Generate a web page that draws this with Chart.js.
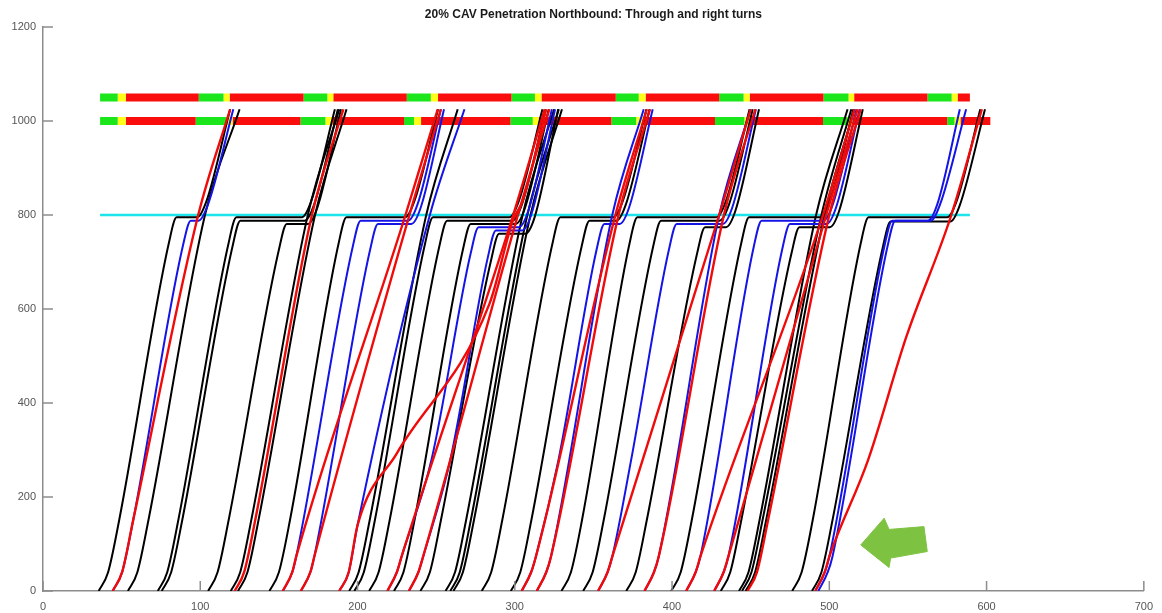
<!DOCTYPE html>
<html><head><meta charset="utf-8">
<script src="https://cdn.jsdelivr.net/npm/chart.js@4.4.1/dist/chart.umd.min.js"></script>
<style>html,body{margin:0;padding:0;background:#fff}#wrap{width:1162px;height:613px}</style>
</head><body><div id="wrap"><canvas id="c" width="1162" height="613"></canvas></div>
<script>
const chartTitle = "20% CAV Penetration Northbound: Through and right turns";
const xTickValues = [0,100,200,300,400,500,600,700];
const yTickValues = [0,200,400,600,800,1000,1200];

// signal phases [start, end, phase]
const signalUpper = [[36.3,47.5,'G'],[47.5,52.7,'Y'],[52.7,99,'R'],[99,114.8,'G'],[114.8,118.7,'Y'],[118.7,165.7,'R'],[165.7,180.8,'G'],[180.8,184.6,'Y'],[184.6,231.3,'R'],[231.3,246.6,'G'],[246.6,251.2,'Y'],[251.2,297.9,'R'],[297.9,312.8,'G'],[312.8,317,'Y'],[317,364.2,'R'],[364.2,378.8,'G'],[378.8,383.2,'Y'],[383.2,430,'R'],[430,445.5,'G'],[445.5,449.4,'Y'],[449.4,496.3,'R'],[496.3,512.2,'G'],[512.2,515.8,'Y'],[515.8,562.4,'R'],[562.4,577.8,'G'],[577.8,581.6,'Y'],[581.6,589.4,'R']];
const signalLower = [[36.3,47.5,'G'],[47.5,52.7,'Y'],[52.7,97.1,'R'],[97.1,116.8,'G'],[116.8,120.6,'Y'],[120.6,163.7,'R'],[163.7,179.6,'G'],[179.6,184,'Y'],[184,229.6,'R'],[229.6,235.9,'G'],[235.9,240.4,'Y'],[240.4,297.2,'R'],[297.2,311.4,'G'],[311.4,315.2,'Y'],[315.2,361.4,'R'],[361.4,377.2,'G'],[377.2,381.7,'Y'],[381.7,427.3,'R'],[427.3,446,'G'],[446,449.5,'Y'],[449.5,496,'R'],[496,511.5,'G'],[511.5,515.3,'Y'],[515.3,575,'R'],[575,579.6,'G'],[579.6,583.4,'Y'],[583.4,602.4,'R']];
const signalUpperY = 1050;
const signalLowerY = 1000;
const stopLine = [[36.3,800],[589.4,800]];

const blackTracks = [
 [[35.4,0],[41.4,40],[48.4,150],[80,740],[85,795],[98,795],[104,830],[119,1025]],
 [[54,0],[60,40],[67,150],[103,800],[125,1025]],
 [[73,0],[79,40],[86,150],[118,740],[123,795],[164.6,795],[170.6,830],[185.6,1025]],
 [[75.5,0],[81.5,40],[88.5,150],[120.5,733],[125.5,788],[166.5,788],[172.5,823],[187.5,1025]],
 [[105,0],[111,40],[118,150],[150,726],[155,781],[168.5,781],[174.5,816],[189.5,1025]],
 [[119.4,0],[125.4,40],[132.4,150],[168.4,800],[188.4,1025]],
 [[124,0],[130,40],[137,150],[173,800],[193,1025]],
 [[144,0],[150,40],[157,150],[188,740],[193,795],[230.2,795],[236.2,830],[251.2,1025]],
 [[194.7,0],[200.7,40],[207.7,150],[243.7,800],[263.7,1025]],
 [[198,0],[204,40],[211,150],[243,740],[248,795],[296.6,795],[302.6,830],[317.6,1025]],
 [[207.4,0],[213.4,40],[220.4,150],[252,733],[257,788],[298.6,788],[304.6,823],[319.6,1025]],
 [[223.2,0],[229.2,40],[236.2,150],[267,726],[272,781],[300.6,781],[306.6,816],[321.6,1025]],
 [[240,0],[246,40],[253,150],[285,705],[290,760],[306.6,760],[312.6,795],[327.6,1025]],
 [[256,0],[262,40],[269,150],[305,800],[325,1025]],
 [[259,0],[265,40],[272,150],[308,800],[328,1025]],
 [[261,0],[267,40],[274,150],[310,800],[330,1025]],
 [[279,0],[285,40],[292,150],[324,740],[329,795],[362.7,795],[368.7,830],[383.7,1025]],
 [[297.5,0],[303.5,40],[310.5,150],[342.5,733],[347.5,788],[364.7,788],[370.7,823],[385.7,1025]],
 [[329.7,0],[335.7,40],[342.7,150],[373,740],[378,795],[428.3,795],[434.3,830],[449.3,1025]],
 [[343.5,0],[349.5,40],[356.5,150],[388,733],[393,788],[430.3,788],[436.3,823],[451.3,1025]],
 [[370.9,0],[376.9,40],[383.9,150],[416,719],[421,774],[434.3,774],[440.3,809],[455.3,1025]],
 [[399.5,0],[405.5,40],[412.5,150],[444,740],[449,795],[494.3,795],[500.3,830],[515.3,1025]],
 [[431,0],[437,40],[444,150],[476,719],[481,774],[500.3,774],[506.3,809],[521.3,1025]],
 [[442.6,0],[448.6,40],[455.6,150],[491.6,800],[511.6,1025]],
 [[444.5,0],[450.5,40],[457.5,150],[495,800],[514,1025]],
 [[446.8,0],[452.8,40],[459.8,150],[497,800],[516,1025]],
 [[476.4,0],[482.4,40],[489.4,150],[520,740],[525,795],[575,795],[581,830],[596,1025]],
 [[489,0],[495,40],[502,150],[534,731],[539,786],[577,786],[583,821],[599,1025]]
];
const blueTracks = [
 [[44.3,0],[50.3,40],[57.3,150],[89,735],[94,788],[99,788],[105,823],[121,1025]],
 [[152.5,0],[158.5,40],[161,73],[197,733],[202,788],[232.2,788],[238.2,823],[253,1025]],
 [[164,0],[170,40],[172.5,73],[208,726],[213,781],[234.2,781],[240.2,816],[255,1025]],
 [[188.4,0],[194.4,40],[200,140],[246,800],[268,1025]],
 [[219,0],[225,40],[228,73],[247,279],[272,719],[277,774],[302.6,774],[308.6,809],[323.6,1025]],
 [[232.7,0],[238.7,40],[241.7,73],[259,279],[283,712],[288,767],[304.6,767],[310.6,802],[325.6,1025]],
 [[304.4,0],[310.4,40],[313.4,73],[327.8,279],[352,726],[357,781],[366.7,781],[372.7,816],[387.7,1025]],
 [[314,0],[320,40],[323,73],[362,800],[382,1025]],
 [[353,0],[359,40],[362,73],[374,279],[398,726],[403,781],[432.3,781],[438.3,816],[453.3,1025]],
 [[382.5,0],[388.5,40],[391.5,73],[430,800],[450,1025]],
 [[409,0],[415,40],[418,73],[452,733],[457,788],[496.3,788],[502.3,823],[517.3,1025]],
 [[426.8,0],[432.8,40],[435.8,73],[470,726],[475,781],[498.3,781],[504.3,816],[519.3,1025]],
 [[491.1,0],[497.1,40],[500,73],[535,733],[540,788],[562.7,788],[568.7,823],[583,1025]],
 [[493,0],[499,40],[502,73],[537,733],[542,788],[564.5,788],[570.5,823],[587,1025]]
];
const redTracks = [
 [[44.3,0],[50.3,40],[57.3,150],[98.7,800],[119,1025]],
 [[121.9,0],[127.9,40],[134.9,150],[171,800],[191,1025]],
 [[152.5,0],[158.5,40],[161,73],[230.5,800],[251,1025]],
 [[164,0],[170,40],[172.5,73],[233,800],[253,1025]],
 [[188.4,0],[194.4,40],[200,140],[225,293],[284,612],[299,790],[305,830],[320,1025]],
 [[219,0],[225,40],[228,73],[299,800],[319,1025]],
 [[232.7,0],[238.7,40],[241.7,73],[302,800],[322,1025]],
 [[304.4,0],[310.4,40],[313.4,73],[364,800],[384,1025]],
 [[314,0],[320,40],[323,73],[366,800],[386,1025]],
 [[353,0],[359,40],[362,73],[430,800],[450,1025]],
 [[382.5,0],[388.5,40],[391.5,73],[433,800],[453,1025]],
 [[409,0],[415,40],[418,73],[496,800],[516,1025]],
 [[426.8,0],[432.8,40],[435.8,73],[498,800],[518,1025]],
 [[448,0],[454,40],[461,150],[500,800],[520,1025]],
 [[491.1,0],[497.1,40],[500,73],[524.7,279],[549,541],[577.6,800],[597,1025]]
];
// green arrow annotation outline in data units
const arrowOutline = [[520,98],[534.9,155],[538,131],[560.2,137],[562.3,84],[539,70],[538,50],[520,98]];

const phaseColor = {G:'#1be51b', Y:'#ffff1a', R:'#fa0d0d'};
const toXY = a => a.map(p => ({x:p[0], y:p[1]}));
const datasets = [];
function track(arr, color, w, order){
  arr.forEach(t => datasets.push({data:toXY(t), borderColor:color, borderWidth:w, showLine:true, pointRadius:0,
    cubicInterpolationMode:'monotone', fill:false, order:order}));
}
track(redTracks,'#f00a0a',2.4,1);
track(blueTracks,'#1414e6',2,2);
track(blackTracks,'#000000',2,3);
datasets.push({data:toXY(stopLine), borderColor:'#1de4ea', borderWidth:2.5, showLine:true, pointRadius:0, order:4});
[[signalUpper,signalUpperY],[signalLower,signalLowerY]].forEach(([segs,y]) => segs.forEach(s => {
  datasets.push({data:[{x:s[0],y:y},{x:s[1],y:y}], borderColor:phaseColor[s[2]], borderWidth:8, borderCapStyle:'butt', showLine:true, pointRadius:0, order:5});
}));
datasets.push({data:toXY(arrowOutline), borderColor:'#7ec242', backgroundColor:'#7ec242', borderWidth:1, showLine:true, pointRadius:0, fill:'shape', tension:0, order:0});

const decor = {
  id:'decor',
  afterDraw(chart){
    const {ctx, chartArea:a, scales:{x, y}} = chart;
    ctx.save();
    ctx.strokeStyle = '#8c8c8c'; ctx.lineWidth = 1.5;
    xTickValues.forEach(v => { const px = x.getPixelForValue(v); ctx.beginPath(); ctx.moveTo(px, a.bottom); ctx.lineTo(px, a.bottom-10); ctx.stroke(); });
    yTickValues.forEach(v => { const py = y.getPixelForValue(v); ctx.beginPath(); ctx.moveTo(a.left, py); ctx.lineTo(a.left+10, py); ctx.stroke(); });
    ctx.fillStyle = '#1a1a1a'; ctx.font = 'bold 12px "Liberation Sans", Arial, sans-serif';
    ctx.textAlign = 'center'; ctx.textBaseline = 'middle';
    ctx.fillText(chartTitle, (a.left + a.right)/2, 15);
    ctx.restore();
  }
};

Chart.defaults.font.family = '"Liberation Sans", Arial, sans-serif';
new Chart(document.getElementById('c'), {
  type:'scatter',
  data:{datasets},
  options:{
    responsive:false, animation:false, devicePixelRatio:1,
    layout:{padding:{top:27, right:14.5, left:0, bottom:0}},
    plugins:{legend:{display:false}, tooltip:{enabled:false}, title:{display:false}},
    scales:{
      x:{type:'linear', min:0, max:700,
        afterBuildTicks: s => { s.ticks = xTickValues.map(v => ({value:v})); },
        afterFit: s => { s.height = 22; },
        grid:{display:false, drawTicks:false, tickLength:0}, border:{display:true, color:'#8c8c8c', width:1.5},
        ticks:{color:'#555', font:{size:11}, padding:9, maxRotation:0, callback: v => String(v)}},
      y:{type:'linear', min:0, max:1200,
        afterBuildTicks: s => { s.ticks = yTickValues.map(v => ({value:v})); },
        afterFit: s => { s.width = 43; },
        grid:{display:false, drawTicks:false, tickLength:0}, border:{display:true, color:'#8c8c8c', width:1.5},
        ticks:{color:'#555', font:{size:11}, padding:7, callback: v => String(v)}}
    }
  },
  plugins:[decor]
});
</script></body></html>
